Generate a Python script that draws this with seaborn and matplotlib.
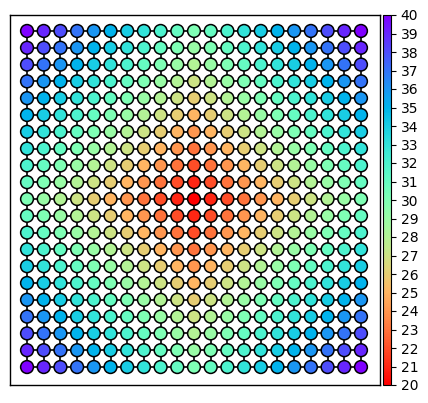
import numpy as np
import pandas as pd
import seaborn as sns
import matplotlib
matplotlib.use("Agg")
import matplotlib.pyplot as plt
from matplotlib.colors import Normalize
from matplotlib.cm import ScalarMappable

# node values (grid rows top to bottom, columns left to right)
values = [
    [40, 39, 38, 37, 36, 35, 34, 33, 32, 31, 30, 31, 32, 33, 34, 35, 36, 37, 38, 39, 40],
    [39, 38, 37, 36, 35, 34, 33, 32, 31, 30, 29, 30, 31, 32, 33, 34, 35, 36, 37, 38, 39],
    [38, 37, 36, 35, 34, 33, 32, 31, 30, 29, 28, 29, 30, 31, 32, 33, 34, 35, 36, 37, 38],
    [37, 36, 35, 34, 33, 32, 31, 30, 29, 28, 27, 28, 29, 30, 31, 32, 33, 34, 35, 36, 37],
    [36, 35, 34, 33, 32, 31, 30, 29, 28, 27, 26, 27, 28, 29, 30, 31, 32, 33, 34, 35, 36],
    [35, 34, 33, 32, 31, 30, 29, 28, 27, 26, 25, 26, 27, 28, 29, 30, 31, 32, 33, 34, 35],
    [34, 33, 32, 31, 30, 29, 28, 27, 26, 25, 24, 25, 26, 27, 28, 29, 30, 31, 32, 33, 34],
    [33, 32, 31, 30, 29, 28, 27, 26, 25, 24, 23, 24, 25, 26, 27, 28, 29, 30, 31, 32, 33],
    [32, 31, 30, 29, 28, 27, 26, 25, 24, 23, 22, 23, 24, 25, 26, 27, 28, 29, 30, 31, 32],
    [31, 30, 29, 28, 27, 26, 25, 24, 23, 22, 21, 22, 23, 24, 25, 26, 27, 28, 29, 30, 31],
    [30, 29, 28, 27, 26, 25, 24, 23, 22, 21, 20, 21, 22, 23, 24, 25, 26, 27, 28, 29, 30],
    [31, 30, 29, 28, 27, 26, 25, 24, 23, 22, 21, 22, 23, 24, 25, 26, 27, 28, 29, 30, 31],
    [32, 31, 30, 29, 28, 27, 26, 25, 24, 23, 22, 23, 24, 25, 26, 27, 28, 29, 30, 31, 32],
    [33, 32, 31, 30, 29, 28, 27, 26, 25, 24, 23, 24, 25, 26, 27, 28, 29, 30, 31, 32, 33],
    [34, 33, 32, 31, 30, 29, 28, 27, 26, 25, 24, 25, 26, 27, 28, 29, 30, 31, 32, 33, 34],
    [35, 34, 33, 32, 31, 30, 29, 28, 27, 26, 25, 26, 27, 28, 29, 30, 31, 32, 33, 34, 35],
    [36, 35, 34, 33, 32, 31, 30, 29, 28, 27, 26, 27, 28, 29, 30, 31, 32, 33, 34, 35, 36],
    [37, 36, 35, 34, 33, 32, 31, 30, 29, 28, 27, 28, 29, 30, 31, 32, 33, 34, 35, 36, 37],
    [38, 37, 36, 35, 34, 33, 32, 31, 30, 29, 28, 29, 30, 31, 32, 33, 34, 35, 36, 37, 38],
    [39, 38, 37, 36, 35, 34, 33, 32, 31, 30, 29, 30, 31, 32, 33, 34, 35, 36, 37, 38, 39],
    [40, 39, 38, 37, 36, 35, 34, 33, 32, 31, 30, 31, 32, 33, 34, 35, 36, 37, 38, 39, 40],
]
colorbar_ticks = list(range(20, 41))
vmin, vmax = 20, 40

arr = np.array(values)
nrows, ncols = arr.shape
rows, cols = np.meshgrid(np.arange(nrows), np.arange(ncols), indexing="ij")
df = pd.DataFrame({"x": cols.ravel(), "y": rows.ravel(), "v": arr.ravel()})

fig = plt.figure(figsize=(4.28, 4.03), dpi=100)
W, H = 428, 403
ax = fig.add_axes([10 / W, (H - 385) / H, (380 - 10) / W, (385 - 15) / H])

# edges of the grid graph
for r in range(nrows):
    ax.plot([0, ncols - 1], [r, r], color="black", lw=1.2, zorder=1)
for c in range(ncols):
    ax.plot([c, c], [0, nrows - 1], color="black", lw=1.2, zorder=1)

sns.scatterplot(data=df, x="x", y="y", hue="v", palette="rainbow_r",
                hue_norm=(vmin, vmax), s=85, edgecolor="black", linewidth=1.1,
                legend=False, ax=ax, zorder=2)

ax.set_xlim(-1.02, 21.14)
ax.set_ylim(21.07, -0.95)
ax.set_xticks([])
ax.set_yticks([])
ax.set_xlabel("")
ax.set_ylabel("")
for sp in ax.spines.values():
    sp.set_visible(True)
    sp.set_color("black")
    sp.set_linewidth(1.0)

cax = fig.add_axes([383 / W, (H - 385) / H, 8 / W, 370 / H])
sm = ScalarMappable(norm=Normalize(vmin, vmax), cmap="rainbow_r")
cb = fig.colorbar(sm, cax=cax, ticks=colorbar_ticks)
cb.ax.tick_params(labelsize=10)
cb.outline.set_linewidth(0.8)

fig.savefig("out.png", dpi=100)
